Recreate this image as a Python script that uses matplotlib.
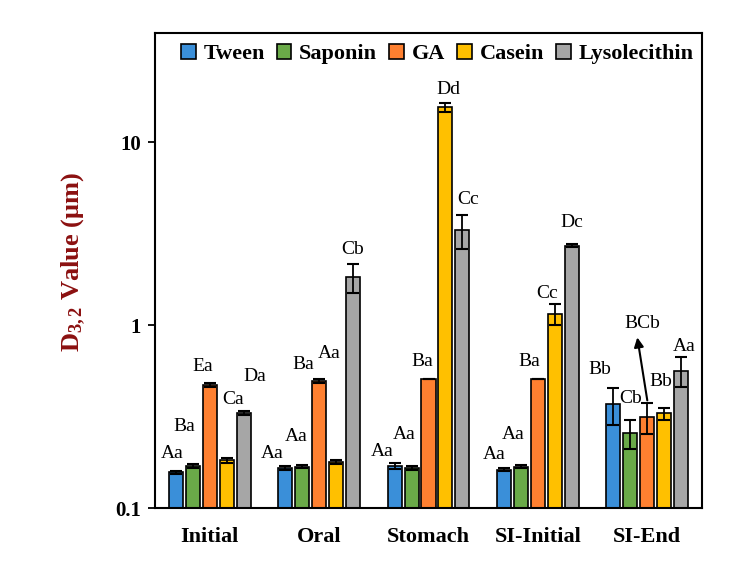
import matplotlib
matplotlib.use("Agg")
import matplotlib.pyplot as plt
from matplotlib.transforms import offset_copy
import numpy as np

plt.rcParams['font.family'] = ['Liberation Serif', 'DejaVu Serif']
plt.rcParams['mathtext.fontset'] = 'custom'
plt.rcParams['mathtext.rm'] = 'Liberation Serif'
plt.rcParams['mathtext.bf'] = 'Liberation Serif:bold'
plt.rcParams['mathtext.it'] = 'Liberation Serif:italic'

# ---- data ----
stages = ["Initial", "Oral", "Stomach", "SI-Initial", "SI-End"]
series = ["Tween", "Saponin", "GA", "Casein", "Lysolecithin"]

tween = [0.157, 0.165, 0.170, 0.162, 0.368]
saponin = [0.170, 0.168, 0.165, 0.168, 0.256]
ga = [0.470, 0.495, 0.510, 0.510, 0.313]
casein = [0.182, 0.178, 15.5, 1.15, 0.329]
lyso = [0.330, 1.82, 3.30, 2.72, 0.561]

tween_err = [0.003, 0.004, 0.006, 0.003, 0.085]
saponin_err = [0.004, 0.003, 0.004, 0.003, 0.045]
ga_err = [0.010, 0.010, 0.0, 0.0, 0.060]
casein_err = [0.005, 0.004, 0.9, 0.15, 0.025]
lyso_err = [0.008, 0.33, 0.7, 0.04, 0.105]

tween_lbl = ["Aa", "Aa", "Aa", "Aa", "Bb"]
saponin_lbl = ["Ba", "Aa", "Aa", "Aa", "Cb"]
ga_lbl = ["Ea", "Ba", "Ba", "Ba", "BCb"]
casein_lbl = ["Ca", "Aa", "Dd", "Cc", "Bb"]
lyso_lbl = ["Da", "Cb", "Cc", "Dc", "Aa"]

yticks = [0.1, 1, 10]
ytick_labels = ["0.1", "1", "10"]

colors = ["#3A8FD9", "#6AAA48", "#FF8030", "#FFC000", "#A6A6A6"]

# label placement nudges (pixels: dx, up from bar/error top)
label_offsets = [
    [(-4, 17), (-13, 13), (-12, 12), (-10, 14), (-14, 18)],
    [(-8, 37), (-6, 29), (-7, 32), (-8, 31), (0, 22)],
    [(-7, 17), (-16, 15), (-6, 17), (-9, 17), None],
    [(6, 59), (-7, 107), (3, 13), (-8, 11), (-3, 26)],
    [(11, 35), (0, 15), (6, 15), (0, 22), (3, 11)],
]

vals = [tween, saponin, ga, casein, lyso]
errs = [tween_err, saponin_err, ga_err, casein_err, lyso_err]
lbls = [tween_lbl, saponin_lbl, ga_lbl, casein_lbl, lyso_lbl]

fig = plt.figure(figsize=(7.52, 5.74), dpi=100)
ax = fig.add_axes([155/752, 1-508/574, (702-155)/752, (508-33)/574])

x = np.arange(len(stages))
step = 0.155
width = 0.128
for j, (name, v, e, c) in enumerate(zip(series, vals, errs, colors)):
    xs = x + (j - 2) * step
    ax.bar(xs, v, width, color=c, edgecolor='black', linewidth=1.2, label=name, zorder=2)
    ax.errorbar(xs, v, yerr=e, fmt='none', ecolor='black', elinewidth=1.3,
                capsize=4.5, capthick=1.5, zorder=3)
    for i in range(len(stages)):
        top = v[i] + e[i]
        off = label_offsets[j][i]
        if off is None:
            continue
        ax.annotate(lbls[j][i], xy=(xs[i], top), xytext=off, textcoords='offset pixels',
                    ha='center', va='center', fontsize=14, zorder=4)

# special arrow label for GA at SI-End
j, i = 2, 4
xg = x[i] + (j - 2) * step
topg = ga[i] + ga_err[i]
ax.annotate(ga_lbl[i], xy=(xg, topg), xytext=(-5, 80), textcoords='offset pixels',
            ha='center', va='center', fontsize=14, zorder=4)
head_tr = offset_copy(ax.transData, fig=fig, x=-10, y=66, units='dots')
ax.annotate('', xy=(xg, topg), xycoords=head_tr, xytext=(10, -63), textcoords='offset pixels',
            arrowprops=dict(arrowstyle='-|>', color='black', lw=1.5, mutation_scale=14,
                            shrinkA=0, shrinkB=0), zorder=4)

ax.set_yscale('log')
ax.set_ylim(0.1, 39.5)
ax.set_xlim(-0.5, 4.5)
ax.set_yticks(yticks)
ax.set_yticklabels(ytick_labels, fontsize=15, fontweight='bold')
ax.yaxis.set_minor_locator(matplotlib.ticker.NullLocator())
ax.set_xticks(x)
ax.set_xticklabels(stages, fontsize=16, fontweight='bold')
ax.tick_params(axis='x', length=0, pad=14)
ax.tick_params(axis='y', length=5, width=1.3, pad=5, direction='out')
for s in ax.spines.values():
    s.set_linewidth(1.5)

ax.set_ylabel(r'$\mathbf{D_{3,2}}$ Value (μm)', fontsize=19, fontweight='bold', color='#8B1010')
ax.yaxis.set_label_coords(-(155-88)/547, (508-262)/475)

leg = ax.legend(loc='center', bbox_to_anchor=(0.516, 0.956), ncol=5, frameon=False,
                prop={'family': 'Liberation Serif', 'weight': 'bold', 'size': 16},
                handlelength=0.65, handleheight=0.65, handletextpad=0.35,
                columnspacing=0.55, borderpad=0)

fig.savefig('out.png', dpi=100)
